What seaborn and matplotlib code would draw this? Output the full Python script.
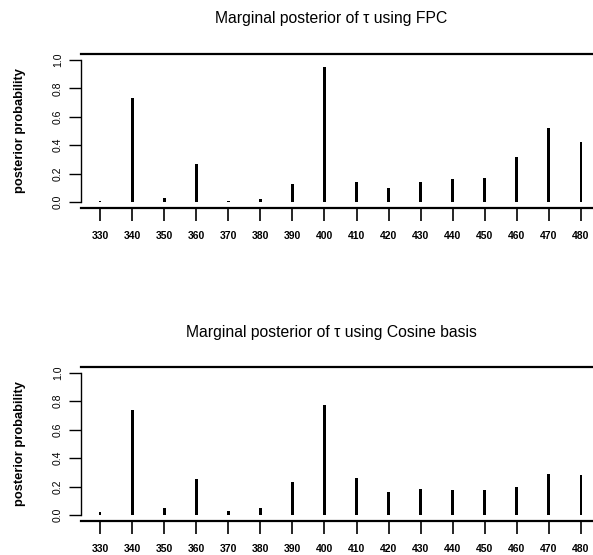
import numpy as np
import pandas as pd
import matplotlib
matplotlib.use("Agg")
import matplotlib.pyplot as plt
import seaborn as sns

# change-point candidates (tau) and their marginal posterior probabilities
tau = [330, 340, 350, 360, 370, 380, 390, 400, 410, 420, 430, 440, 450, 460, 470, 480]
prob_fpc = [0.01, 0.73, 0.025, 0.27, 0.01, 0.02, 0.13, 0.95, 0.14, 0.10, 0.14, 0.16, 0.17, 0.32, 0.52, 0.42]
prob_cosine = [0.02, 0.74, 0.047, 0.25, 0.03, 0.047, 0.234, 0.77, 0.26, 0.165, 0.185, 0.175, 0.173, 0.20, 0.29, 0.28]
y_ticks = [0.0, 0.2, 0.4, 0.6, 0.8, 1.0]
titles = ["Marginal posterior of \u03c4 using FPC",
          "Marginal posterior of \u03c4 using Cosine basis"]
ylabel = "posterior probability"

sns.set_theme(style="white")
plt.rcParams["font.family"] = ["Liberation Sans", "DejaVu Sans"]

W, H = 593, 555
fig = plt.figure(figsize=(W / 100, H / 100), dpi=100)

def px_axes(x0, x1, ytop, ybot):
    return fig.add_axes([x0 / W, 1 - ybot / H, (x1 - x0) / W, (ybot - ytop) / H])

# (axes, values, title centre y, axes centre y) in pixel terms
panels = [
    (px_axes(80.8, 600.2, 54.3, 207.7), prob_fpc, 18, 131),
    (px_axes(80.8, 600.2, 367.0, 520.7), prob_cosine, 333, 444),
]

for (ax, probs, title_y, mid_y), title in zip(panels, titles):
    df = pd.DataFrame({"tau": tau, "prob": probs})
    sns.barplot(data=df, x="tau", y="prob", native_scale=True, width=0.09,
                color="black", edgecolor="black", linewidth=0, ax=ax)
    ax.set_xlim(324, 486)
    ax.set_ylim(-0.04, 1.04)
    ax.set_xticks(tau)
    ax.set_xticklabels([str(t) for t in tau])
    ax.set_yticks(y_ticks)
    ax.set_yticklabels([f"{v:.1f}" for v in y_ticks])
    ax.set_xlabel("")
    ax.set_ylabel("")
    for side in ["top", "bottom"]:
        ax.spines[side].set_visible(True)
        ax.spines[side].set_color("black")
        ax.spines[side].set_linewidth(1.6)
    ax.spines["right"].set_visible(False)
    ax.spines["left"].set_visible(True)
    ax.spines["left"].set_color("black")
    ax.spines["left"].set_linewidth(1.0)
    ax.spines["left"].set_bounds(0, 1)
    ax.tick_params(axis="x", bottom=True, length=9, width=1.2, color="black",
                   labelsize=7.5, pad=8, labelcolor="black")
    ax.tick_params(axis="y", left=True, length=9, width=1.0, color="black",
                   labelsize=7.5, pad=4, labelcolor="black", labelrotation=90)
    for lab in ax.get_xticklabels():
        lab.set_fontweight("bold")
    for lab in ax.get_yticklabels():
        lab.set_va("center")
    fig.text(20 / W, 1 - mid_y / H, ylabel, rotation=90, ha="center", va="center",
             fontsize=9.3, fontweight="bold", color="black")
    fig.text(331 / W, 1 - title_y / H, title, ha="center", va="center",
             fontsize=11.3, color="black")

fig.savefig("out.png", dpi=100, facecolor="white")
